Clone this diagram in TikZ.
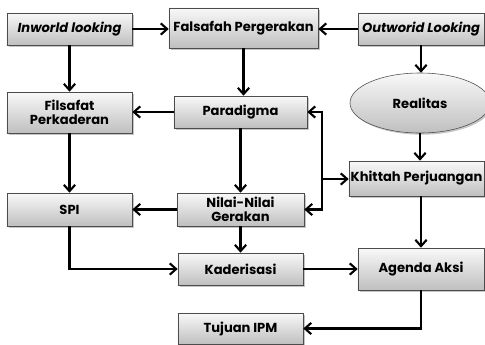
\documentclass[tikz,border=0pt]{standalone}
\usepackage{fontspec}
\setmainfont{Poppins}
\usetikzlibrary{arrows.meta,shadows,shapes.geometric}
\begin{document}
\begin{tikzpicture}[x=0.025cm,y=-0.025cm,
  txt/.style={font=\fontsize{9.3}{10.2}\selectfont\bfseries},
  box/.style={draw=gray!60!black, line width=0.4pt, top color=gray!5, bottom color=gray!50,
    drop shadow={shadow xshift=1.2pt, shadow yshift=-1.2pt, opacity=0.45},
    align=center, inner sep=1pt, txt},
  arr/.style={-{Straight Barb[length=4.5pt,width=8pt]}, line width=1.5pt, black}]
\useasboundingbox (0,0) rectangle (485,344);
\node[box, minimum width=3.125cm, minimum height=0.8cm, font=\fontsize{9.3}{10.2}\selectfont\bfseries\itshape] (inw) at (69.5,29) {Inworld looking};
\node[box, minimum width=3.725cm, minimum height=1.0cm] (fals) at (243.5,28) {Falsafah Pergerakan};
\node[box, minimum width=3.15cm, minimum height=0.8cm, font=\fontsize{9.3}{10.2}\selectfont\bfseries\itshape] (outw) at (421,29) {Outworid Looking};
\node[box, minimum width=3.125cm, minimum height=1.025cm] (fils) at (69.5,112.5) {Filsafat\\Perkaderan};
\node[box, minimum width=3.325cm, minimum height=0.8cm] (para) at (240.5,112) {Paradigma};
\node[box, ellipse, minimum width=3.5cm, minimum height=1.5cm] (real) at (420,103) {Realitas};
\node[box, minimum width=3.375cm, minimum height=0.875cm] (khit) at (416.5,178.5) {Khittah Perjuangan};
\node[box, minimum width=3.125cm, minimum height=0.825cm] (spi) at (69.5,209.5) {SPI};
\node[box, minimum width=3.175cm, minimum height=0.825cm] (nilai) at (240.5,209.5) {Nilai-Nilai\\Gerakan};
\node[box, minimum width=3.125cm, minimum height=0.8cm] (kad) at (240.5,269) {Kaderisasi};
\node[box, minimum width=3.15cm, minimum height=1.05cm] (agenda) at (421,269) {Agenda Aksi};
\node[box, minimum width=3.125cm, minimum height=0.775cm] (tuj) at (240.5,328.5) {Tujuan IPM};
\coordinate (j) at (322,179);
\draw[arr] (inw.east) -- (inw.east -| fals.west);
\draw[arr] (outw.west) -- (outw.west -| fals.east);
\draw[arr] (inw) -- (fils);
\draw[arr] (fals.south) -- (fals.south |- para.north);
\draw[arr] (outw.south) -- (outw.south |- real.north);
\draw[arr] (para.west) -- (para.west -| fils.east);
\draw[arr] (fils) -- (spi);
\draw[arr] (para) -- (nilai);
\draw[arr] (nilai.west) -- (nilai.west -| spi.east);
\draw[arr] (j) |- (para.east);
\draw[arr] (j) |- (nilai.east);
\draw[arr] (j) -- (j -| khit.west);
\draw[arr] (real.south) -- (real.south |- khit.north);
\draw[arr] (khit.south -| agenda) -- (agenda.north);
\draw[arr] (nilai) -- (kad);
\draw[arr] (spi.south) |- (kad.west);
\draw[arr] (kad.east) -- (kad.east -| agenda.west);
\draw[arr] (agenda.south) |- (tuj.east);
\end{tikzpicture}
\end{document}
